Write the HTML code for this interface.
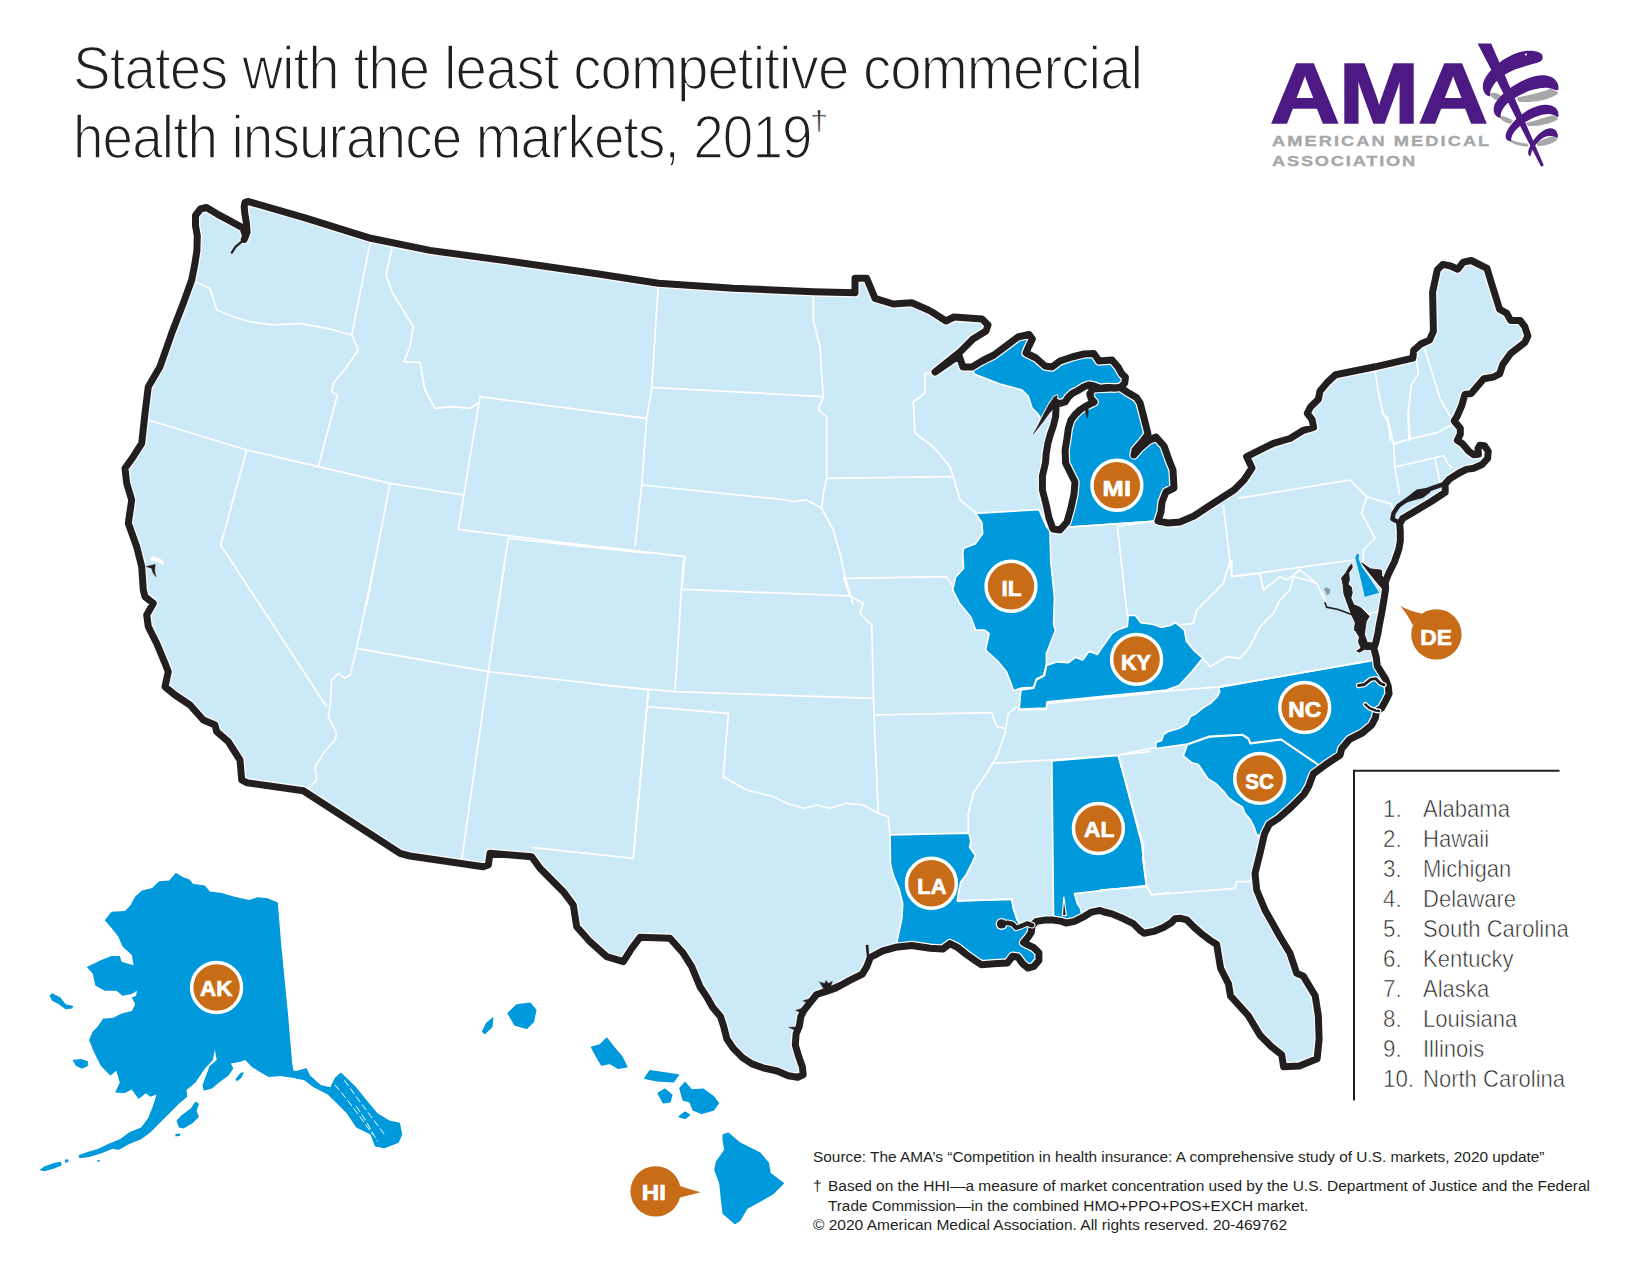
<!DOCTYPE html>
<html><head><meta charset="utf-8"><title>States with the least competitive commercial health insurance markets, 2019</title>
<style>
html,body{margin:0;padding:0;background:#fff}
body{width:1650px;height:1275px;position:relative;overflow:hidden;font-family:"Liberation Sans",sans-serif;color:#231f20}
.title{position:absolute;left:73px;font-size:61.5px;line-height:66px;white-space:nowrap;transform-origin:0 0;letter-spacing:-1px;-webkit-text-stroke:1.6px #fff}
.dag{position:absolute;left:809.5px;top:108.4px;font-size:27px;line-height:27px;transform-origin:0 0;transform:scaleX(1.2);-webkit-text-stroke:.5px #fff}
.lg{position:absolute;left:1383px;font-size:24px;line-height:28px;white-space:nowrap;-webkit-text-stroke:.6px #fff}
.lg .n{display:inline-block;width:39.5px;transform-origin:0 0;transform:scaleX(.93)}
.lg .s{display:inline-block;transform-origin:0 0;transform:scaleX(.918)}
.ft{position:absolute;left:813px;font-size:15.5px;line-height:18px;white-space:nowrap;color:#231f20;transform-origin:0 0}
.ama{position:absolute;left:1269.5px;top:51px;font-weight:700;font-size:85.3px;line-height:85.3px;color:#4c1a82;transform-origin:0 0;transform:scaleX(1.134);letter-spacing:-1px;-webkit-text-stroke:1.6px #4c1a82}
.am2{position:absolute;left:1272px;font-weight:700;font-size:15.2px;line-height:16px;color:#a7a7aa;letter-spacing:1.72px;transform:scaleX(1.2);-webkit-text-stroke:.35px #a7a7aa;white-space:nowrap;transform-origin:0 0}
</style></head><body>
<svg width="1650" height="1275" viewBox="0 0 1650 1275" style="position:absolute;left:0;top:0">
<defs><clipPath id="land"><path d="M247.8,201.4 L305,217.8 L370.7,238.3 L430,250.4 L513.3,261.7 L600,274.3 L658.3,283.3 L733.3,288.3 L813.3,291.7 L855,292.7 L855,278.3 L866.7,278.3 L875,298.3 L893.3,304 L911.7,302.7 L928.3,310 L932,312 L946,321 L954,317 L968,318 L982,319 L988,325 L986,331 L973,339 L960,352 L935,372 L959,355.6 L963,367 L972,367 L982,361 L994,355 L1006,346 L1018,337 L1029,334.4 L1032.4,339 L1028,348 L1026,353 L1036,358 L1045,366 L1052,367 L1060,361 L1072,357 L1084,354 L1094,353.6 L1099,361 L1112,360 L1118,367 L1122,374 L1125.5,377.3 L1124.7,383.1 L1120.4,387.5 L1129.1,393.3 L1136.4,397.6 L1140,402.7 L1144,418 L1148,434 L1142,442 L1135,450 L1134,455 L1140,448 L1148,441 L1156,437 L1164,446 L1169,460 L1173,470 L1174,488 L1166,492 L1162,502 L1161,512 L1158,521 L1168,523 L1180,522 L1194,516 L1206,508 L1220,499 L1234,490 L1244,480 L1252,468 L1246.6,456.6 L1273.3,443.3 L1290,438.5 L1302.6,430.7 L1313.6,427.5 L1312.1,419.6 L1307.3,413.3 L1310.5,407 L1318.4,399.2 L1319.9,391.3 L1327.8,381.8 L1335.7,374.7 L1375.1,366.8 L1412.9,358.2 L1413.7,350.3 L1420.8,344 L1429.5,340.1 L1433.4,331.4 L1432.6,292 L1437.3,269.9 L1442.8,264.4 L1450.7,266 L1457.8,269.2 L1463.3,262.1 L1471.2,260.5 L1487,268.4 L1491.7,284.1 L1499.6,309.3 L1506.7,313.3 L1510.6,320.4 L1520.1,320.4 L1524.8,326.7 L1527.9,336.1 L1524.8,342.4 L1510.6,353.5 L1502.7,364.5 L1499.6,373.9 L1493.3,377.1 L1483.8,378.7 L1475.9,388.1 L1471.2,393.6 L1464.9,394.4 L1461.8,405.5 L1457,416.5 L1454.2,420.9 L1460.3,428.2 L1460.3,434.2 L1457.3,440.3 L1462.7,443.9 L1468.8,451.2 L1473.6,454.8 L1478.5,454.2 L1477.9,448.8 L1479.7,445.2 L1484.5,445.8 L1488.2,451.2 L1487.6,458.5 L1482.1,464.5 L1473.6,468.2 L1466.4,469.4 L1459.1,473 L1449.4,479.1 L1445.2,483.9 L1445.2,492.4 L1431.2,501.5 L1419.1,508.8 L1402.7,518.5 L1399.7,523.9 L1400.3,531.2 L1400.3,540.9 L1398.8,549.4 L1394.4,562 L1388.6,573.6 L1385.2,582.4 L1385.7,588.2 L1384.2,597.9 L1381.8,612.4 L1378.9,627 L1378.1,632.7 L1375.5,643.8 L1373.8,648 L1376.4,658.2 L1377.2,665.8 L1381.5,672.6 L1385.7,679.4 L1388.2,686.2 L1389.1,693.8 L1385.7,700.6 L1381.5,708.2 L1376.4,711.6 L1375.5,717.6 L1371.6,725.1 L1362.2,733 L1349.6,739.3 L1341.7,748.7 L1340.1,755 L1325.9,764.5 L1313.3,773.9 L1308.6,786.5 L1303.9,794.4 L1291.3,807 L1278.7,818.1 L1269.2,824.4 L1264.5,833.8 L1260,853.3 L1255,873.3 L1256.7,890 L1265,910 L1280,936.7 L1290,953.3 L1296.7,973.3 L1303.3,976.1 L1315.2,995.8 L1318.3,1015.5 L1319.1,1039.1 L1317.1,1058.8 L1299.4,1065.9 L1283.6,1066.7 L1281.7,1054.8 L1271.8,1047 L1260,1035.2 L1248.2,1015.5 L1230.5,995.8 L1228.5,983.9 L1220.6,968.2 L1216.7,944.5 L1209.9,940.1 L1202.2,934.3 L1194.4,927.5 L1186.7,919.8 L1180.8,918.3 L1175,918.8 L1171.2,922.7 L1163.4,927.5 L1153.7,931.4 L1144,933.3 L1140.1,930.4 L1133.3,923.6 L1123.6,918.8 L1112,913.9 L1104.2,912 L1100,910.4 L1091.5,912.1 L1083,917.2 L1074.5,921.4 L1066.1,923.1 L1061.8,921.4 L1053.3,920.1 L1044.8,920.1 L1036.4,921.4 L1032.1,925.6 L1031.3,932.4 L1027.9,937.5 L1023.6,942.6 L1027,944.3 L1033.8,947.7 L1038.9,952.8 L1038.9,960.4 L1033.8,966.4 L1027.9,968.1 L1022.8,963.8 L1017.7,957 L1012.6,956.2 L1007.5,963 L993.9,963.8 L981.2,964.7 L975.5,960.9 L966.4,954.5 L957.3,947.3 L950,943.6 L942.7,949.1 L930,948.2 L911.8,945.5 L895.5,947.3 L882.7,950.9 L870.2,957.5 L867,966.2 L862.3,974.1 L849.7,980.4 L835.5,988.2 L826.1,991.4 L816.6,994.5 L810.3,1002.4 L804,1010.3 L800.8,1016.6 L799.3,1026.1 L796.1,1033.9 L795.3,1045 L798.5,1056 L802.4,1067 L803.2,1074.9 L797.7,1077.3 L788.2,1075.7 L777.2,1071 L763,1067.8 L752,1063.9 L742.5,1057.6 L733.1,1048.1 L726.8,1038.7 L723.6,1026.1 L720.5,1016.6 L712.6,1007.2 L706.3,996.1 L700,986.7 L691.7,966.7 L683.3,953.3 L670,938.3 L640,937.3 L631.7,948.3 L623.3,961.7 L606.7,956.7 L590,941.7 L576.7,926.7 L573.3,905 L563.3,891.7 L540,868.3 L531.7,856.7 L490,853.3 L488.3,865 L483.3,866.7 L410,856 L400,853.3 L303.3,790.7 L246.7,782.7 L241.7,780 L240,760 L228.3,741.7 L216.7,731.7 L215,725 L203.3,720 L190,705 L175,695 L165,686.7 L168.3,671.7 L165,663.3 L156.7,643.3 L148.3,626.7 L146.7,615 L153.3,603.3 L145,596.7 L143.3,590 L141.7,566.7 L136.7,546.7 L128.3,523.3 L131.7,500 L126.7,483.3 L125,468.3 L133.3,456.7 L141.7,443.3 L145,413.3 L148.3,386.7 L160,366.7 L171.7,333.3 L183.3,303.3 L191.7,280 L195,263.3 L196.9,250.5 L197.3,235.9 L195.5,225.7 L195.5,215.5 L200.5,209 L206.4,207.5 L217.3,214.1 L228.2,219.9 L242.7,227.9 L245.6,235.9 L244.2,239.5 L247.1,232.3 L246.4,222.8 L244.9,214.1 L244.2,206.8 L244.9,202.5Z"/></clipPath></defs>
<g clip-path="url(#land)">
<rect x="0" y="0" width="1650" height="1275" fill="#cce9f7"/>
<path d="M975.5,513.3 L1039.1,509.6 L1046.4,526.4 L1050,530.9 L1050.9,562.7 L1054.5,597.3 L1053.6,624.5 L1055.5,630 L1050,644.5 L1046.4,653.6 L1046.4,664.5 L1043.6,675.5 L1036.4,679.1 L1033.6,687.3 L1020.9,688.2 L1013.6,690.9 L1010,680.9 L1006.4,671.8 L997.3,660.9 L985.5,650 L989.1,633.6 L984.5,630 L975.5,630 L970.9,617.3 L959.1,602.7 L952.7,590 L955.5,577.3 L963.6,568.2 L962.7,553.6 L963.6,548.2 L975.5,543.6 L982.7,533.6 L981.8,522.7Z" fill="#0099db"/>
<path d="M1019.1,709.1 L1020.9,690 L1033.6,688.2 L1036.4,680 L1044.5,675.5 L1046.4,665.5 L1057.3,661.8 L1068.2,662.7 L1075.5,657.3 L1082.7,660 L1089.1,650.9 L1097.3,654.5 L1102.7,646.4 L1111.8,633.6 L1117.3,630 L1127.3,626.4 L1128.2,615.5 L1135.5,615.5 L1140.9,622.7 L1153.6,624.5 L1160.9,627.3 L1170,625.5 L1175.5,622.7 L1184.5,630 L1186.4,640.9 L1193.6,650 L1202.7,658.2 L1191.8,671.8 L1179.1,685.5 L1166.4,690 L1047.3,701.8 L1046.4,708.2Z" fill="#0099db"/>
<path d="M1155.8,748.7 L1155.8,742.4 L1161.3,740.8 L1163.6,734.5 L1168.4,731.4 L1179.4,728.2 L1187.3,723.5 L1190.4,716.4 L1195.2,714.1 L1203,707.8 L1210.9,703 L1217.2,696.7 L1219.6,692 L1218.8,687.3 L1370.8,660.5 L1407.9,654.2 L1407.9,750.3 L1344.8,766.1 L1318.1,764.5 L1281,739.3 L1250.3,743.2 L1248.7,738.5 L1242.4,734.5 L1209.3,736.4 L1187.3,744Z" fill="#0099db"/>
<path d="M1183.3,755.8 L1187.3,744.8 L1209.3,736.9 L1242.4,735 L1248.4,739 L1250.3,743.7 L1281,739.6 L1318.1,764.8 L1344.8,766.1 L1281.8,844.8 L1256.6,834.6 L1253.5,825.9 L1250.3,819.6 L1244.8,813.3 L1242.4,807 L1234.5,802.3 L1228.2,797.6 L1223.5,791.3 L1215.6,783.4 L1207.8,778.7 L1201.5,769.2 L1198.3,764.5 L1192,762.9Z" fill="#0099db"/>
<path d="M890,834.9 L969.1,833.1 L970.9,841.8 L969.6,847.3 L975.5,855.5 L971.8,863.6 L966.4,874.5 L960.9,881.8 L958.2,894.5 L957.3,900.9 L1011.8,899.1 L1013.6,909.1 L1017.3,920 L1021.1,926.1 L1027,923.5 L1032.1,925.2 L1044.8,932.4 L1044.8,979.1 L888.2,971.8 L895.5,958.2 L897.3,940 L901.8,918.2 L902.7,903.6 L899.1,889.1 L893.6,876.4 L890.4,863.6Z" fill="#0099db"/>
<path d="M1051.8,760.9 L1118.2,755.5 L1128.2,790.9 L1139.1,830.9 L1143.6,845.5 L1142.7,858.2 L1146.4,885.5 L1074.5,893.6 L1077.3,903.6 L1080.9,909.1 L1082.7,921.8 L1053.6,925.5Z" fill="#0099db"/>
<path d="M1354.7,557.2 L1356.6,553.8 L1359.5,553.3 L1359,559.1 L1362.4,566.8 L1369.2,576.5 L1379.9,593 L1364.4,597.4 L1361.5,584.3 L1357.6,568.8Z" fill="#0099db"/>
<path d="M974,374 L1000,384 L1022,390 L1028,396 L1032,408 L1038,414 L1041,420 L1044,416.5 L1050.5,407.8 L1056.4,404.2 L1059.3,405.6 L1065.1,404.2 L1069.5,399.1 L1073.8,394.7 L1079.6,391.8 L1085.5,388.2 L1089.8,386.7 L1094.9,388.2 L1100,390 L1107.3,389.3 L1114.5,390 L1121.8,388.9 L1132,378 L1120,366 L1112,356 L1099,358 L1094,350 L1072,354 L1052,364 L1036,354 L1034,336 L1029,330 L1016,336 L994,354 L972,367Z" fill="#0099db"/>
<path d="M1069,527 L1157,521 L1180,510 L1180,430 L1144,390 L1120.4,387.5 L1092.7,386.7 L1088.4,394 L1089.8,399.1 L1092,402 L1088.4,403.5 L1084,405.6 L1078.9,408.9 L1073.8,413.6 L1069.5,419.5 L1066.9,428.2 L1065.5,439.1 L1063.6,450 L1062.9,462.7 L1062.4,463 L1067,472 L1072,482 L1071,494 L1068,508 L1064,522Z" fill="#0099db"/>
<g fill="none" stroke="#fff" stroke-width="1.7" stroke-linejoin="round">
<path d="M195,281.7 L210,288.3 L216.7,310 L233.3,316.7 L250,321.7 L273.3,325 L300,323.3 L326.7,328.3 L351.7,335"/>
<path d="M370.7,240 L351.7,335 L358.3,350 L346.7,366.7 L333.3,383.3 L331.7,391.7 L337.3,395 L318.3,466.7"/>
<path d="M392.7,245 L386,275 L392.7,293.3 L413.3,326.7 L410,346.7 L404,361.7 L420,362.7 L425,390 L435,408.3 L453.3,406.7 L470,408.3 L478.3,403.3"/>
<path d="M480,396.7 L646.7,418.3"/>
<path d="M480,396.7 L458.3,529.3 L635,551.7"/>
<path d="M148.3,420 L246.7,450 L318.3,466.7 L390,483.3 L463.3,495"/>
<path d="M246.7,450 L220.7,545 L326.7,706.7"/>
<path d="M390,483.3 L366.7,605"/>
<path d="M375,560 L356.7,648.3 L488.3,671.7"/>
<path d="M508.3,538.3 L498.3,605"/>
<path d="M505,560 L488.3,671.7 L461.7,860"/>
<path d="M508.3,538.3 L650,553.3"/>
<path d="M356.7,648.3 L350,675 L345,678.3 L338.3,673.3 L331.7,680 L330,706.7 L328.3,716.7 L336.7,733.3 L335,740 L323.3,753.3 L315,766.7 L316.7,780 L308.3,788.3"/>
<path d="M488.3,671.7 L650,690"/>
<path d="M648.3,690 L633.3,858.3 L531.7,847.3"/>
<path d="M658.3,285 L651.7,388.3 L646.7,418.3 L641.7,485 L635,546.7"/>
<path d="M600,412.3 L646.7,418.3"/>
<path d="M651.7,387.3 L823.3,396.7"/>
<path d="M813.3,293.3 L813.3,320 L820,346.7 L821.7,373.3 L823.3,396.7 L818.3,410 L826.7,416.7 L826.7,478.3"/>
<path d="M641.7,485 L786.7,500 L793.3,501.7 L806.7,500 L821.7,508.3"/>
<path d="M826.7,478.3 L823.3,493.3 L821.7,508.3 L833.3,530 L840,553.3 L845,576.7 L850,593.3 L853.3,605"/>
<path d="M826.7,478.3 L951.7,476.7"/>
<path d="M600,546.7 L685,556.7 L681.7,590"/>
<path d="M845,578.3 L946.7,576.7 L953.3,586.7"/>
<path d="M936.7,371.7 L925,373.3 L925,393.3 L913.3,401.7 L915,433.3 L933.3,446.7 L950,466.7 L953.3,476.7 L960,500 L976.7,513.3"/>
<path d="M683.3,560 L675,691.7"/>
<path d="M683.3,589.3 L850,596"/>
<path d="M843.3,576.7 L850,596 L863.3,603.3 L860,613.3 L871.7,625 L874,715 L878.3,813.3 L888.3,816.7 L890,835"/>
<path d="M600,685 L675,691.7 L874,698.3"/>
<path d="M648.3,691.7 L633.3,856.7"/>
<path d="M646.7,706.7 L728.3,713.3 L723.3,776.7 L746.7,790 L773.3,796.7 L786.7,803.3 L803.3,808.3 L816.7,805 L830,808.3 L846.7,803.3 L863.3,805 L878.3,813.3"/>
<path d="M874,715 L991.7,712.7 L996.7,726.7 L1005,728.3"/>
<path d="M1016.7,706.7 L1008.3,713.3 L1005,733.3 L996.7,756.7 L986.7,773.3 L973.3,793.3 L968.3,813.3 L968.3,833.3"/>
<path d="M991.7,763.3 L1051.7,760 L1118.3,755 L1150,751.7"/>
<path d="M1018.3,710 L1046.7,709.3 L1046.7,703.3 L1150,693.3"/>
<path d="M1100,697 L1150,692.3 L1218.8,686.9 L1371,660.8"/>
<path d="M1118.3,755 L1155,747.3"/>
<path d="M1118.3,755 L1141.7,843.3 L1146.7,886.7 L1151.7,895 L1235,888.3 L1236.7,881.7 L1248.3,881.7 L1255,876.7"/>
<path d="M1100,890 L1146.7,886.7"/>
<path d="M1201.7,656.7 L1210,666.7 L1226.7,656.7 L1240,658.3 L1250,646.7 L1260,626.7 L1273.3,613.3 L1280,600 L1290,590 L1293.3,576.7 L1306.7,580 L1316.7,583.3 L1326.7,603.3"/>
<path d="M1180,625 L1193.3,623.3 L1196.7,610 L1210,596.7 L1223.3,583.3 L1228.3,566.7 L1230,560"/>
<path d="M1231.7,560 L1231.7,576.7 L1260,573.3 L1263.3,590 L1280,576.7 L1286.7,580 L1300,570 L1316.7,583.3"/>
<path d="M1231.7,576.7 L1353.3,560"/>
<path d="M1223.3,505 L1231.7,576.7"/>
<path d="M1238.3,498.3 L1350,480 L1366.7,496.7 L1361.7,513.3 L1375,538.3 L1363.3,550 L1363.3,563.3"/>
<path d="M1116.7,526.7 L1161.7,520"/>
<path d="M1117.3,526.4 L1127.3,615.5"/>
<path d="M1367,496.7 L1391.2,503.9 L1393.6,513"/>
<path d="M1375.1,370.8 L1378.2,391.3 L1383,413.3 L1387.7,421.2 L1390.8,440.9"/>
<path d="M1381.5,410 L1383.9,416.1 L1387.6,417.3 L1393.6,443.9 L1394.8,467 L1399.7,494.8"/>
<path d="M1416.8,361.3 L1418.4,373.9 L1411.3,385 L1408.2,413.3 L1409,440.9"/>
<path d="M1408.2,410 L1410,437.9"/>
<path d="M1424.7,348.7 L1439.7,397.6 L1449.2,414.9 L1453.1,419.6"/>
<path d="M1393.6,443.9 L1409.4,439.1 L1438.5,432.4 L1447,427 L1454.2,424.5"/>
<path d="M1394.8,467 L1434.8,457.9 L1443.9,455.5 L1448.2,464.5 L1453,468.2"/>
<path d="M1434.8,457.9 L1438.5,475.5 L1440.3,482.7"/>
<path d="M1367.3,614.4 L1380.8,610.5"/>
<path d="M957.3,900.9 L1011.8,899.1 L1013.6,909.1 L1017.3,920"/>
<path d="M1146.4,885.5 L1151.8,894.5 L1170,892.7"/>
<path d="M1069,527 L1157,521"/>
<path d="M975.5,513.3 L1039.1,509.6 L1046.4,526.4 L1050,530.9 L1050.9,562.7 L1054.5,597.3 L1053.6,624.5 L1055.5,630 L1050,644.5 L1046.4,653.6 L1046.4,664.5 L1043.6,675.5 L1036.4,679.1 L1033.6,687.3 L1020.9,688.2 L1013.6,690.9 L1010,680.9 L1006.4,671.8 L997.3,660.9 L985.5,650 L989.1,633.6 L984.5,630 L975.5,630 L970.9,617.3 L959.1,602.7 L952.7,590 L955.5,577.3 L963.6,568.2 L962.7,553.6 L963.6,548.2 L975.5,543.6 L982.7,533.6 L981.8,522.7Z"/>
<path d="M1019.1,709.1 L1020.9,690 L1033.6,688.2 L1036.4,680 L1044.5,675.5 L1046.4,665.5 L1057.3,661.8 L1068.2,662.7 L1075.5,657.3 L1082.7,660 L1089.1,650.9 L1097.3,654.5 L1102.7,646.4 L1111.8,633.6 L1117.3,630 L1127.3,626.4 L1128.2,615.5 L1135.5,615.5 L1140.9,622.7 L1153.6,624.5 L1160.9,627.3 L1170,625.5 L1175.5,622.7 L1184.5,630 L1186.4,640.9 L1193.6,650 L1202.7,658.2 L1191.8,671.8 L1179.1,685.5 L1166.4,690 L1047.3,701.8 L1046.4,708.2Z"/>
<path d="M1155.8,748.7 L1155.8,742.4 L1161.3,740.8 L1163.6,734.5 L1168.4,731.4 L1179.4,728.2 L1187.3,723.5 L1190.4,716.4 L1195.2,714.1 L1203,707.8 L1210.9,703 L1217.2,696.7 L1219.6,692 L1218.8,687.3 L1370.8,660.5 L1407.9,654.2 L1407.9,750.3 L1344.8,766.1 L1318.1,764.5 L1281,739.3 L1250.3,743.2 L1248.7,738.5 L1242.4,734.5 L1209.3,736.4 L1187.3,744Z"/>
<path d="M1183.3,755.8 L1187.3,744.8 L1209.3,736.9 L1242.4,735 L1248.4,739 L1250.3,743.7 L1281,739.6 L1318.1,764.8 L1344.8,766.1 L1281.8,844.8 L1256.6,834.6 L1253.5,825.9 L1250.3,819.6 L1244.8,813.3 L1242.4,807 L1234.5,802.3 L1228.2,797.6 L1223.5,791.3 L1215.6,783.4 L1207.8,778.7 L1201.5,769.2 L1198.3,764.5 L1192,762.9Z"/>
<path d="M890,834.9 L969.1,833.1 L970.9,841.8 L969.6,847.3 L975.5,855.5 L971.8,863.6 L966.4,874.5 L960.9,881.8 L958.2,894.5 L957.3,900.9 L1011.8,899.1 L1013.6,909.1 L1017.3,920 L1021.1,926.1 L1027,923.5 L1032.1,925.2 L1044.8,932.4 L1044.8,979.1 L888.2,971.8 L895.5,958.2 L897.3,940 L901.8,918.2 L902.7,903.6 L899.1,889.1 L893.6,876.4 L890.4,863.6Z"/>
<path d="M1051.8,760.9 L1118.2,755.5 L1128.2,790.9 L1139.1,830.9 L1143.6,845.5 L1142.7,858.2 L1146.4,885.5 L1074.5,893.6 L1077.3,903.6 L1080.9,909.1 L1082.7,921.8 L1053.6,925.5Z"/>
<path d="M1354.7,557.2 L1356.6,553.8 L1359.5,553.3 L1359,559.1 L1362.4,566.8 L1369.2,576.5 L1379.9,593 L1364.4,597.4 L1361.5,584.3 L1357.6,568.8Z" stroke-width=".7"/>
<path d="M974,374 L1000,384 L1022,390 L1028,396 L1032,408 L1038,414 L1041,420 L1044,416.5 L1050.5,407.8 L1056.4,404.2 L1059.3,405.6 L1065.1,404.2 L1069.5,399.1 L1073.8,394.7 L1079.6,391.8 L1085.5,388.2 L1089.8,386.7 L1094.9,388.2 L1100,390 L1107.3,389.3 L1114.5,390 L1121.8,388.9 L1132,378 L1120,366 L1112,356 L1099,358 L1094,350 L1072,354 L1052,364 L1036,354 L1034,336 L1029,330 L1016,336 L994,354 L972,367Z"/>
<path d="M1069,527 L1157,521 L1180,510 L1180,430 L1144,390 L1120.4,387.5 L1092.7,386.7 L1088.4,394 L1089.8,399.1 L1092,402 L1088.4,403.5 L1084,405.6 L1078.9,408.9 L1073.8,413.6 L1069.5,419.5 L1066.9,428.2 L1065.5,439.1 L1063.6,450 L1062.9,462.7 L1062.4,463 L1067,472 L1072,482 L1071,494 L1068,508 L1064,522Z"/>
</g>
<path d="M247.8,201.4 L305,217.8 L370.7,238.3 L430,250.4 L513.3,261.7 L600,274.3 L658.3,283.3 L733.3,288.3 L813.3,291.7 L855,292.7 L855,278.3 L866.7,278.3 L875,298.3 L893.3,304 L911.7,302.7 L928.3,310 L932,312 L946,321 L954,317 L968,318 L982,319 L988,325 L986,331 L973,339 L960,352 L935,372 L959,355.6 L963,367 L972,367 L982,361 L994,355 L1006,346 L1018,337 L1029,334.4 L1032.4,339 L1028,348 L1026,353 L1036,358 L1045,366 L1052,367 L1060,361 L1072,357 L1084,354 L1094,353.6 L1099,361 L1112,360 L1118,367 L1122,374 L1125.5,377.3 L1124.7,383.1 L1120.4,387.5 L1129.1,393.3 L1136.4,397.6 L1140,402.7 L1144,418 L1148,434 L1142,442 L1135,450 L1134,455 L1140,448 L1148,441 L1156,437 L1164,446 L1169,460 L1173,470 L1174,488 L1166,492 L1162,502 L1161,512 L1158,521 L1168,523 L1180,522 L1194,516 L1206,508 L1220,499 L1234,490 L1244,480 L1252,468 L1246.6,456.6 L1273.3,443.3 L1290,438.5 L1302.6,430.7 L1313.6,427.5 L1312.1,419.6 L1307.3,413.3 L1310.5,407 L1318.4,399.2 L1319.9,391.3 L1327.8,381.8 L1335.7,374.7 L1375.1,366.8 L1412.9,358.2 L1413.7,350.3 L1420.8,344 L1429.5,340.1 L1433.4,331.4 L1432.6,292 L1437.3,269.9 L1442.8,264.4 L1450.7,266 L1457.8,269.2 L1463.3,262.1 L1471.2,260.5 L1487,268.4 L1491.7,284.1 L1499.6,309.3 L1506.7,313.3 L1510.6,320.4 L1520.1,320.4 L1524.8,326.7 L1527.9,336.1 L1524.8,342.4 L1510.6,353.5 L1502.7,364.5 L1499.6,373.9 L1493.3,377.1 L1483.8,378.7 L1475.9,388.1 L1471.2,393.6 L1464.9,394.4 L1461.8,405.5 L1457,416.5 L1454.2,420.9 L1460.3,428.2 L1460.3,434.2 L1457.3,440.3 L1462.7,443.9 L1468.8,451.2 L1473.6,454.8 L1478.5,454.2 L1477.9,448.8 L1479.7,445.2 L1484.5,445.8 L1488.2,451.2 L1487.6,458.5 L1482.1,464.5 L1473.6,468.2 L1466.4,469.4 L1459.1,473 L1449.4,479.1 L1445.2,483.9 L1445.2,492.4 L1431.2,501.5 L1419.1,508.8 L1402.7,518.5 L1399.7,523.9 L1400.3,531.2 L1400.3,540.9 L1398.8,549.4 L1394.4,562 L1388.6,573.6 L1385.2,582.4 L1385.7,588.2 L1384.2,597.9 L1381.8,612.4 L1378.9,627 L1378.1,632.7 L1375.5,643.8 L1373.8,648 L1376.4,658.2 L1377.2,665.8 L1381.5,672.6 L1385.7,679.4 L1388.2,686.2 L1389.1,693.8 L1385.7,700.6 L1381.5,708.2 L1376.4,711.6 L1375.5,717.6 L1371.6,725.1 L1362.2,733 L1349.6,739.3 L1341.7,748.7 L1340.1,755 L1325.9,764.5 L1313.3,773.9 L1308.6,786.5 L1303.9,794.4 L1291.3,807 L1278.7,818.1 L1269.2,824.4 L1264.5,833.8 L1260,853.3 L1255,873.3 L1256.7,890 L1265,910 L1280,936.7 L1290,953.3 L1296.7,973.3 L1303.3,976.1 L1315.2,995.8 L1318.3,1015.5 L1319.1,1039.1 L1317.1,1058.8 L1299.4,1065.9 L1283.6,1066.7 L1281.7,1054.8 L1271.8,1047 L1260,1035.2 L1248.2,1015.5 L1230.5,995.8 L1228.5,983.9 L1220.6,968.2 L1216.7,944.5 L1209.9,940.1 L1202.2,934.3 L1194.4,927.5 L1186.7,919.8 L1180.8,918.3 L1175,918.8 L1171.2,922.7 L1163.4,927.5 L1153.7,931.4 L1144,933.3 L1140.1,930.4 L1133.3,923.6 L1123.6,918.8 L1112,913.9 L1104.2,912 L1100,910.4 L1091.5,912.1 L1083,917.2 L1074.5,921.4 L1066.1,923.1 L1061.8,921.4 L1053.3,920.1 L1044.8,920.1 L1036.4,921.4 L1032.1,925.6 L1031.3,932.4 L1027.9,937.5 L1023.6,942.6 L1027,944.3 L1033.8,947.7 L1038.9,952.8 L1038.9,960.4 L1033.8,966.4 L1027.9,968.1 L1022.8,963.8 L1017.7,957 L1012.6,956.2 L1007.5,963 L993.9,963.8 L981.2,964.7 L975.5,960.9 L966.4,954.5 L957.3,947.3 L950,943.6 L942.7,949.1 L930,948.2 L911.8,945.5 L895.5,947.3 L882.7,950.9 L870.2,957.5 L867,966.2 L862.3,974.1 L849.7,980.4 L835.5,988.2 L826.1,991.4 L816.6,994.5 L810.3,1002.4 L804,1010.3 L800.8,1016.6 L799.3,1026.1 L796.1,1033.9 L795.3,1045 L798.5,1056 L802.4,1067 L803.2,1074.9 L797.7,1077.3 L788.2,1075.7 L777.2,1071 L763,1067.8 L752,1063.9 L742.5,1057.6 L733.1,1048.1 L726.8,1038.7 L723.6,1026.1 L720.5,1016.6 L712.6,1007.2 L706.3,996.1 L700,986.7 L691.7,966.7 L683.3,953.3 L670,938.3 L640,937.3 L631.7,948.3 L623.3,961.7 L606.7,956.7 L590,941.7 L576.7,926.7 L573.3,905 L563.3,891.7 L540,868.3 L531.7,856.7 L490,853.3 L488.3,865 L483.3,866.7 L410,856 L400,853.3 L303.3,790.7 L246.7,782.7 L241.7,780 L240,760 L228.3,741.7 L216.7,731.7 L215,725 L203.3,720 L190,705 L175,695 L165,686.7 L168.3,671.7 L165,663.3 L156.7,643.3 L148.3,626.7 L146.7,615 L153.3,603.3 L145,596.7 L143.3,590 L141.7,566.7 L136.7,546.7 L128.3,523.3 L131.7,500 L126.7,483.3 L125,468.3 L133.3,456.7 L141.7,443.3 L145,413.3 L148.3,386.7 L160,366.7 L171.7,333.3 L183.3,303.3 L191.7,280 L195,263.3 L196.9,250.5 L197.3,235.9 L195.5,225.7 L195.5,215.5 L200.5,209 L206.4,207.5 L217.3,214.1 L228.2,219.9 L242.7,227.9 L245.6,235.9 L244.2,239.5 L247.1,232.3 L246.4,222.8 L244.9,214.1 L244.2,206.8 L244.9,202.5Z" fill="none" stroke="#fff" stroke-width="9.4" stroke-linejoin="round"/>
<path d="M1120.4,387.5 L1114.5,388.2 L1107.3,387.5 L1100,388.2 L1094.2,386 L1089.1,384.9 L1084,386.7 L1078.2,390.4 L1072.4,393.3 L1068,397.6 L1065.1,402 L1059.3,403.6 L1055.6,402 L1056,409.3 L1055.6,416.5 L1053.5,425.3 L1050.5,434 L1048,442.7 L1046.2,453.6 L1045.5,462.7 L1042.4,476 L1042.4,490 L1046,504 L1049,518 L1053,529 L1060,530 L1067,522 L1071,508 L1074,494 L1075,482 L1070,472 L1065.6,463 L1065.1,450 L1066.9,439.1 L1068.4,428.2 L1070.9,420.2 L1075.3,414.4 L1080.4,409.6 L1085.5,406.4 L1089.8,404.2 L1094.2,402 L1091.3,399.1 L1089.8,394 L1092.7,388.9Z" fill="none" stroke="#fff" stroke-width="9.4" stroke-linejoin="round"/>
<path d="M1054.2,396.9 L1057.1,395.5 L1056.7,402 L1054.2,407.8 L1049.1,413.6 L1043.3,421.6 L1033.1,434.4 L1038.2,425.3 L1044,413.6 L1049.1,404.2Z" fill="#fff" stroke="#fff" stroke-width="2.4" stroke-linejoin="round"/>
<path d="M1351.8,564.4 L1352.2,567.8 L1348.8,572.7 L1349.3,580.4 L1347.9,584.3 L1351.3,587.2 L1352.2,593 L1350.8,597.9 L1353.7,604.7 L1360.5,607.6 L1365.3,612.4 L1369.2,616.3 L1366.3,621.2 L1365.3,627 L1364.4,634.7 L1367.3,642.5 L1372.1,642.9 L1374.7,647.2 L1373,649.3 L1367.9,649.7 L1364.5,649.3 L1359.4,652.2 L1356.8,651 L1361.1,648 L1358.5,642.1 L1359.4,637 L1355.2,630.2 L1355.6,620 L1354.7,630.8 L1355.6,623.1 L1351.8,615.3 L1347.9,604.7 L1344,594 L1343,584.3 L1341.6,578 L1345.9,572.7 L1349.8,565.9Z" fill="#fff" stroke="#fff" stroke-width="2.6" stroke-linejoin="round"/>
<path d="M1361.9,563 L1370.2,568.8 L1381.3,570.2 L1381.8,575.6 L1386.7,582.4 L1382.8,589.2 L1377,582.4 L1369.2,572.7Z" fill="#fff" stroke="#fff" stroke-width="2.6" stroke-linejoin="round"/>
<path d="M1323.6,589.2 L1326.5,587.2 L1330.4,589.2 L1329.5,594 L1326.5,595 L1325.1,591.1Z" fill="#8e9aa6"/>
<path d="M150.4,557.8 L152.9,556 L160.9,559.3 L164.5,562.9 L162.4,564.7 L156.5,561.5 L150.7,560.7Z" fill="#fff"/>
<path d="M1062.4,915.5 L1063.8,896.7 L1066.4,915.5Z" fill="#231f20" stroke="#fff" stroke-width="1.2"/>
</g>
<g stroke="#231f20" stroke-linejoin="round" stroke-linecap="round">
<path d="M247.8,201.4 L305,217.8 L370.7,238.3 L430,250.4 L513.3,261.7 L600,274.3 L658.3,283.3 L733.3,288.3 L813.3,291.7 L855,292.7 L855,278.3 L866.7,278.3 L875,298.3 L893.3,304 L911.7,302.7 L928.3,310 L932,312 L946,321 L954,317 L968,318 L982,319 L988,325 L986,331 L973,339 L960,352 L935,372 L959,355.6 L963,367 L972,367 L982,361 L994,355 L1006,346 L1018,337 L1029,334.4 L1032.4,339 L1028,348 L1026,353 L1036,358 L1045,366 L1052,367 L1060,361 L1072,357 L1084,354 L1094,353.6 L1099,361 L1112,360 L1118,367 L1122,374 L1125.5,377.3 L1124.7,383.1 L1120.4,387.5 L1129.1,393.3 L1136.4,397.6 L1140,402.7 L1144,418 L1148,434 L1142,442 L1135,450 L1134,455 L1140,448 L1148,441 L1156,437 L1164,446 L1169,460 L1173,470 L1174,488 L1166,492 L1162,502 L1161,512 L1158,521 L1168,523 L1180,522 L1194,516 L1206,508 L1220,499 L1234,490 L1244,480 L1252,468 L1246.6,456.6 L1273.3,443.3 L1290,438.5 L1302.6,430.7 L1313.6,427.5 L1312.1,419.6 L1307.3,413.3 L1310.5,407 L1318.4,399.2 L1319.9,391.3 L1327.8,381.8 L1335.7,374.7 L1375.1,366.8 L1412.9,358.2 L1413.7,350.3 L1420.8,344 L1429.5,340.1 L1433.4,331.4 L1432.6,292 L1437.3,269.9 L1442.8,264.4 L1450.7,266 L1457.8,269.2 L1463.3,262.1 L1471.2,260.5 L1487,268.4 L1491.7,284.1 L1499.6,309.3 L1506.7,313.3 L1510.6,320.4 L1520.1,320.4 L1524.8,326.7 L1527.9,336.1 L1524.8,342.4 L1510.6,353.5 L1502.7,364.5 L1499.6,373.9 L1493.3,377.1 L1483.8,378.7 L1475.9,388.1 L1471.2,393.6 L1464.9,394.4 L1461.8,405.5 L1457,416.5 L1454.2,420.9 L1460.3,428.2 L1460.3,434.2 L1457.3,440.3 L1462.7,443.9 L1468.8,451.2 L1473.6,454.8 L1478.5,454.2 L1477.9,448.8 L1479.7,445.2 L1484.5,445.8 L1488.2,451.2 L1487.6,458.5 L1482.1,464.5 L1473.6,468.2 L1466.4,469.4 L1459.1,473 L1449.4,479.1 L1445.2,483.9 L1445.2,492.4 L1431.2,501.5 L1419.1,508.8 L1402.7,518.5 L1399.7,523.9 L1400.3,531.2 L1400.3,540.9 L1398.8,549.4 L1394.4,562 L1388.6,573.6 L1385.2,582.4 L1385.7,588.2 L1384.2,597.9 L1381.8,612.4 L1378.9,627 L1378.1,632.7 L1375.5,643.8 L1373.8,648 L1376.4,658.2 L1377.2,665.8 L1381.5,672.6 L1385.7,679.4 L1388.2,686.2 L1389.1,693.8 L1385.7,700.6 L1381.5,708.2 L1376.4,711.6 L1375.5,717.6 L1371.6,725.1 L1362.2,733 L1349.6,739.3 L1341.7,748.7 L1340.1,755 L1325.9,764.5 L1313.3,773.9 L1308.6,786.5 L1303.9,794.4 L1291.3,807 L1278.7,818.1 L1269.2,824.4 L1264.5,833.8 L1260,853.3 L1255,873.3 L1256.7,890 L1265,910 L1280,936.7 L1290,953.3 L1296.7,973.3 L1303.3,976.1 L1315.2,995.8 L1318.3,1015.5 L1319.1,1039.1 L1317.1,1058.8 L1299.4,1065.9 L1283.6,1066.7 L1281.7,1054.8 L1271.8,1047 L1260,1035.2 L1248.2,1015.5 L1230.5,995.8 L1228.5,983.9 L1220.6,968.2 L1216.7,944.5 L1209.9,940.1 L1202.2,934.3 L1194.4,927.5 L1186.7,919.8 L1180.8,918.3 L1175,918.8 L1171.2,922.7 L1163.4,927.5 L1153.7,931.4 L1144,933.3 L1140.1,930.4 L1133.3,923.6 L1123.6,918.8 L1112,913.9 L1104.2,912 L1100,910.4 L1091.5,912.1 L1083,917.2 L1074.5,921.4 L1066.1,923.1 L1061.8,921.4 L1053.3,920.1 L1044.8,920.1 L1036.4,921.4 L1032.1,925.6 L1031.3,932.4 L1027.9,937.5 L1023.6,942.6 L1027,944.3 L1033.8,947.7 L1038.9,952.8 L1038.9,960.4 L1033.8,966.4 L1027.9,968.1 L1022.8,963.8 L1017.7,957 L1012.6,956.2 L1007.5,963 L993.9,963.8 L981.2,964.7 L975.5,960.9 L966.4,954.5 L957.3,947.3 L950,943.6 L942.7,949.1 L930,948.2 L911.8,945.5 L895.5,947.3 L882.7,950.9 L870.2,957.5 L867,966.2 L862.3,974.1 L849.7,980.4 L835.5,988.2 L826.1,991.4 L816.6,994.5 L810.3,1002.4 L804,1010.3 L800.8,1016.6 L799.3,1026.1 L796.1,1033.9 L795.3,1045 L798.5,1056 L802.4,1067 L803.2,1074.9 L797.7,1077.3 L788.2,1075.7 L777.2,1071 L763,1067.8 L752,1063.9 L742.5,1057.6 L733.1,1048.1 L726.8,1038.7 L723.6,1026.1 L720.5,1016.6 L712.6,1007.2 L706.3,996.1 L700,986.7 L691.7,966.7 L683.3,953.3 L670,938.3 L640,937.3 L631.7,948.3 L623.3,961.7 L606.7,956.7 L590,941.7 L576.7,926.7 L573.3,905 L563.3,891.7 L540,868.3 L531.7,856.7 L490,853.3 L488.3,865 L483.3,866.7 L410,856 L400,853.3 L303.3,790.7 L246.7,782.7 L241.7,780 L240,760 L228.3,741.7 L216.7,731.7 L215,725 L203.3,720 L190,705 L175,695 L165,686.7 L168.3,671.7 L165,663.3 L156.7,643.3 L148.3,626.7 L146.7,615 L153.3,603.3 L145,596.7 L143.3,590 L141.7,566.7 L136.7,546.7 L128.3,523.3 L131.7,500 L126.7,483.3 L125,468.3 L133.3,456.7 L141.7,443.3 L145,413.3 L148.3,386.7 L160,366.7 L171.7,333.3 L183.3,303.3 L191.7,280 L195,263.3 L196.9,250.5 L197.3,235.9 L195.5,225.7 L195.5,215.5 L200.5,209 L206.4,207.5 L217.3,214.1 L228.2,219.9 L242.7,227.9 L245.6,235.9 L244.2,239.5 L247.1,232.3 L246.4,222.8 L244.9,214.1 L244.2,206.8 L244.9,202.5Z" fill="none" stroke-width="7.0"/>
<path d="M1120.4,387.5 L1114.5,388.2 L1107.3,387.5 L1100,388.2 L1094.2,386 L1089.1,384.9 L1084,386.7 L1078.2,390.4 L1072.4,393.3 L1068,397.6 L1065.1,402 L1059.3,403.6 L1055.6,402 L1056,409.3 L1055.6,416.5 L1053.5,425.3 L1050.5,434 L1048,442.7 L1046.2,453.6 L1045.5,462.7 L1042.4,476 L1042.4,490 L1046,504 L1049,518 L1053,529 L1060,530 L1067,522 L1071,508 L1074,494 L1075,482 L1070,472 L1065.6,463 L1065.1,450 L1066.9,439.1 L1068.4,428.2 L1070.9,420.2 L1075.3,414.4 L1080.4,409.6 L1085.5,406.4 L1089.8,404.2 L1094.2,402 L1091.3,399.1 L1089.8,394 L1092.7,388.9Z" fill="#fff" stroke-width="7.0"/>
<path d="M1054.2,396.9 L1057.1,395.5 L1056.7,402 L1054.2,407.8 L1049.1,413.6 L1043.3,421.6 L1033.1,434.4 L1038.2,425.3 L1044,413.6 L1049.1,404.2Z" fill="#231f20" stroke-width=".6"/>
<path d="M1084,406.4 L1088.4,405.6 L1088,413.6 L1087.3,418 L1085.8,412.2Z" fill="#231f20" stroke-width=".5"/>
<path d="M1351.8,564.4 L1352.2,567.8 L1348.8,572.7 L1349.3,580.4 L1347.9,584.3 L1351.3,587.2 L1352.2,593 L1350.8,597.9 L1353.7,604.7 L1360.5,607.6 L1365.3,612.4 L1369.2,616.3 L1366.3,621.2 L1365.3,627 L1364.4,634.7 L1367.3,642.5 L1372.1,642.9 L1374.7,647.2 L1373,649.3 L1367.9,649.7 L1364.5,649.3 L1359.4,652.2 L1356.8,651 L1361.1,648 L1358.5,642.1 L1359.4,637 L1355.2,630.2 L1355.6,620 L1354.7,630.8 L1355.6,623.1 L1351.8,615.3 L1347.9,604.7 L1344,594 L1343,584.3 L1341.6,578 L1345.9,572.7 L1349.8,565.9Z" fill="#231f20" stroke-width="1"/>
<path d="M1353.7,615.3 L1338.2,609.5 L1326.5,607.1 L1325.1,602.7" fill="none" stroke-width="1.6"/>
<path d="M1361.9,563 L1370.2,568.8 L1381.3,570.2 L1381.8,575.6 L1386.7,582.4 L1382.8,589.2 L1377,582.4 L1369.2,572.7Z" fill="#231f20" stroke-width="1"/>
<path d="M1444.5,483.9 L1433.6,487.6 L1423.9,491.2 L1415.5,493.6 L1407,499.7 L1398.5,505.8 L1393.6,513 L1392.4,519.1 L1399.7,522.7" fill="none" stroke-width="4.4"/>
<path d="M1411.8,493.6 L1416.7,489.4 L1432.4,487 L1430,492.4 L1422.7,497.9 L1414.2,500.3 L1405.8,502.7Z" fill="#231f20" stroke="none"/>
<path d="M244.9,238.8 L235.5,246.8 L231.8,252.6" fill="none" stroke-width="2.2"/>
<path d="M868.3,958.3 L867,944.9" fill="none" stroke-width="2.6" stroke-linecap="butt"/>
<path d="M819.8,981.9 L824.5,983.5 L826.1,980.4 L828.4,983.5 L832.4,981.2 L830.8,985.9 L838.7,982.7 L830.8,988.2 L824.5,990.6Z" fill="#231f20" stroke-width=".4"/>
<path d="M803.2,1000.8 L810.3,998.5 L814.2,994.5 L809.5,1004Z" fill="#231f20" stroke-width=".4"/>
<path d="M795.8,1010.3 L801.6,1008.4 L802.7,1013.8Z" fill="#231f20" stroke-width=".4"/>
<path d="M789,1027.3 L794.9,1027 L796.4,1031.1Z" fill="#231f20" stroke-width=".4"/>
<path d="M1384,684.9 L1380.2,683.2 L1375.9,678.7 L1370.8,679.4 L1367,682.4 L1364.5,684.5 L1358.5,685.5" fill="none" stroke="#fff" stroke-width="5.4"/>
<path d="M1384,684.9 L1380.2,683.2 L1375.9,678.7 L1370.8,679.4 L1367,682.4 L1364.5,684.5 L1358.5,685.5" fill="none" stroke-width="2.8"/>
<path d="M1365.3,704.4 L1369.6,708.2 L1375.9,710.6 L1378.9,711" fill="none" stroke="#fff" stroke-width="5.0"/>
<path d="M1365.3,704.4 L1369.6,708.2 L1375.9,710.6 L1378.9,711" fill="none" stroke-width="2.4"/>
<path d="M146.4,566.5 L155.1,564.4 L154.7,570.9 L155.8,576.7 L152.9,572.4 L151.8,568.4Z" fill="#231f20" stroke-width=".5"/>
<path d="M1032.1,925.2 L1027,923.5 L1021.1,926.1 L1016,927.8 L1012.6,923.9 L1007.5,922.7 L1001.6,923.9" fill="none" stroke="#fff" stroke-width="6.6"/>
<circle cx="1001.6" cy="923.9" r="6" fill="#fff" stroke="none"/>
<path d="M1032.1,925.2 L1027,923.5 L1021.1,926.1 L1016,927.8 L1012.6,923.9 L1007.5,922.7 L1001.6,923.9" fill="none" stroke-width="4.6"/>
<circle cx="1001.6" cy="923.9" r="4.7" fill="#231f20" stroke="none"/>
</g>
<path d="M175.9,872.7 L182.7,877 L189.5,879.5 L192.9,883.8 L204.8,885.5 L209.9,891.4 L221.8,893.1 L233.6,896.5 L248.9,899.9 L257.4,897.3 L267.6,898.2 L277.8,902.4 L281.2,944.8 L287.9,1012.7 L292.2,1063.6 L293.5,1070.7 L297.1,1070.7 L306.5,1067.9 L310.1,1075.5 L320.7,1084.9 L330.2,1087.3 L334.9,1077.8 L340.8,1072.6 L347.9,1079 L356.2,1087.3 L365.6,1099.1 L377.5,1113.3 L389.3,1120.4 L399.9,1122.7 L402.3,1134.5 L398.7,1142.8 L384.5,1148.3 L375.1,1146.4 L370.4,1134.5 L356.2,1127.5 L346.7,1113.3 L337.3,1103.8 L327.8,1094.4 L313.6,1087.3 L304.2,1080.2 L292.4,1077.8 L280.5,1075.9 L268.7,1077.1 L261.6,1073.1 L252.2,1067.2 L245.1,1060.1 L240.4,1061.7 L230.9,1063.6 L233.3,1068.4 L228.5,1075.5 L219.1,1082.5 L212,1088.5 L203.7,1090.8 L202.5,1084.9 L206.1,1075.5 L209.6,1066 L216.7,1060.1 L214.8,1049.5 L212.9,1060.1 L204.9,1068.4 L195.5,1082.5 L186.5,1090.1 L187.2,1096.7 L178.9,1103.8 L169.5,1113.3 L160,1122.7 L150.5,1132.2 L141.1,1139.3 L129.3,1144 L118.6,1149.9 L112.7,1148.7 L100.9,1153.5 L89.1,1157 L79.6,1158.2 L78.5,1155.3 L86.7,1152.3 L98.5,1148.7 L108,1144 L119.8,1139.3 L129.3,1132.2 L141.1,1127.5 L148.2,1118 L152.9,1106.2 L156.5,1094.4 L150.5,1096.7 L145.8,1093.2 L138.7,1099.1 L131.6,1089.6 L124.5,1093.2 L115.1,1092.5 L119.8,1082.5 L116.3,1070.7 L110.4,1075.5 L100.9,1066 L93.8,1051.8 L89.1,1040 L92.8,1031.4 L97.9,1026.3 L103,1018.7 L113.2,1017.8 L121.6,1013.6 L131.8,1011 L135.2,1004.2 L131.8,997.5 L136.1,995.8 L136.9,990.7 L131.8,994.1 L122.5,995.8 L116.5,990.7 L104.7,990.7 L95.3,985.6 L92.8,973.7 L86.8,966.9 L101.3,960.1 L111.5,955.9 L119.9,955.9 L121.6,961.8 L133.5,965.2 L131.8,955 L122.5,946.5 L118.2,936.4 L111.5,927.9 L104.7,920.2 L111.5,911.8 L125,910.9 L130.1,905.8 L135.2,896.5 L142,890.5 L152.2,888 L159,881.2 L169.2,880.4Z" fill="#0099db"/>
<path d="M49.5,995.8 L52.1,993.2 L60.5,997.5 L65.6,1004.2 L73.3,1005.9 L72.4,1008.5 L65.6,1009.3 L58.8,1004.2 L52.1,1000.8Z" fill="#0099db"/>
<path d="M72.5,1060.1 L80.8,1058.9 L87.9,1061.3 L87.9,1066 L82,1068.8 L76.1,1066Z" fill="#0099db"/>
<path d="M176.5,1120.4 L181.3,1115.6 L190.7,1108.5 L195.5,1101.5 L199,1103.8 L196.6,1110.9 L199,1116.8 L193.1,1122.7 L183.6,1128.6 L178.9,1127.5Z" fill="#0099db"/>
<path d="M175.4,1134.1 L180.1,1133.4 L180.1,1135.7 L175.4,1136.4Z" fill="#0099db"/>
<path d="M39.5,1170 L44.2,1166.5 L53.6,1162.9 L60.7,1161.7 L61.9,1165.3 L53.6,1168.8 L44.2,1171.2Z" fill="#0099db"/>
<path d="M65,1159.4 L68.3,1159.4 L68.3,1162.4 L65,1162.4Z" fill="#0099db"/>
<path d="M97.4,1160.1 L99.7,1160.1 L99.7,1161.7 L97.4,1161.7Z" fill="#0099db"/>
<path d="M235.6,1079 L240.4,1073.1 L243.9,1071.9 L241.5,1077.8 L236.8,1081.4Z" fill="#0099db"/>
<path d="M482.7,1031.7 L486.7,1023.3 L492.7,1018.3 L491.7,1026.7 L485,1033.3Z" fill="#0099db" stroke="#0099db" stroke-width="1.6" stroke-linejoin="round"/>
<path d="M508.3,1013.3 L516.7,1005 L530,1003.3 L535.7,1010 L533.3,1021.7 L526.7,1028.3 L515,1025Z" fill="#0099db" stroke="#0099db" stroke-width="1.6" stroke-linejoin="round"/>
<path d="M591.7,1047.3 L600,1045 L606.7,1038.3 L613.3,1046.7 L621.7,1056.7 L626.7,1066.7 L618.3,1068.3 L610,1063.3 L601.7,1065 L596.7,1056.7Z" fill="#0099db" stroke="#0099db" stroke-width="1.6" stroke-linejoin="round"/>
<path d="M645,1078.3 L650,1070.7 L663.3,1072.7 L678.3,1075 L673.3,1081.7 L656.7,1080.7Z" fill="#0099db" stroke="#0099db" stroke-width="1.6" stroke-linejoin="round"/>
<path d="M658.3,1093.3 L665,1089.3 L671.7,1095 L670,1101.7 L663.3,1102.7Z" fill="#0099db" stroke="#0099db" stroke-width="1.6" stroke-linejoin="round"/>
<path d="M680,1088.3 L685,1082.7 L691.7,1090 L703.3,1089.3 L713.3,1096.7 L718.3,1103.3 L713.3,1110 L701.7,1113.3 L693.3,1110 L690,1101.7 L683.3,1100Z" fill="#0099db" stroke="#0099db" stroke-width="1.6" stroke-linejoin="round"/>
<path d="M679.3,1116.7 L685,1112.3 L689.3,1115 L685,1118.3Z" fill="#0099db" stroke="#0099db" stroke-width="1.6" stroke-linejoin="round"/>
<path d="M723.3,1135 L728.3,1133.3 L740,1143.3 L760,1153.3 L768.3,1163.3 L770,1173.3 L783.3,1183.3 L773.3,1193.3 L761.7,1200 L746.7,1208.3 L740,1220 L735,1223.3 L723.3,1213.3 L721.7,1200 L720,1183.3 L715,1170 L716.7,1161.7 L725,1150 L723.3,1140Z" fill="#0099db" stroke="#0099db" stroke-width="1.6" stroke-linejoin="round"/>
<path d="M334.9,1084.9 L346.7,1099.1 L360.9,1118 L372.7,1134.5" fill="none" stroke="#fff" stroke-width="1" stroke-dasharray="7 3"/>
<path d="M344.4,1080.2 L356.2,1096.7 L370.4,1115.6 L384.5,1134.5" fill="none" stroke="#fff" stroke-width="1" stroke-dasharray="7 3"/>
<path d="M356.2,1106.2 L365.6,1120.4 L377.5,1141.6" fill="none" stroke="#fff" stroke-width="1" stroke-dasharray="7 3"/>
<path d="M1400.2,606.1 Q1412,612 1422,613.5 L1412.5,625 Q1408,615 1400.2,606.1 Z" fill="#c86c17"/>
<path d="M700.7,1192.2 Q690,1189.5 680,1186 L680,1197.5 Q690,1195 700.7,1192.2 Z" fill="#c86c17"/>
<circle cx="1116.9" cy="485.3" r="24.95" fill="#c86c17" stroke="#fff" stroke-width="3.5"/>
<text transform="translate(1116.8,495.59999999999997) scale(1.12,1)" text-anchor="middle" font-family="Liberation Sans, sans-serif" font-weight="700" font-size="22.8" fill="#fff" stroke="#fff" stroke-width=".7">MI</text>
<circle cx="1011.0" cy="586.3" r="24.95" fill="#c86c17" stroke="#fff" stroke-width="3.5"/>
<text transform="translate(1011.5,596.4000000000001) scale(1.0,1)" text-anchor="middle" font-family="Liberation Sans, sans-serif" font-weight="700" font-size="22.8" fill="#fff" stroke="#fff" stroke-width=".7">IL</text>
<circle cx="1136.6" cy="659.4" r="24.95" fill="#c86c17" stroke="#fff" stroke-width="3.5"/>
<text transform="translate(1136.0,669.6) scale(0.95,1)" text-anchor="middle" font-family="Liberation Sans, sans-serif" font-weight="700" font-size="22.8" fill="#fff" stroke="#fff" stroke-width=".7">KY</text>
<circle cx="1304.7" cy="707.5" r="24.95" fill="#c86c17" stroke="#fff" stroke-width="3.5"/>
<text transform="translate(1304.7,717.4000000000001) scale(1.0,1)" text-anchor="middle" font-family="Liberation Sans, sans-serif" font-weight="700" font-size="22.8" fill="#fff" stroke="#fff" stroke-width=".7">NC</text>
<circle cx="1259.7" cy="778.4" r="24.95" fill="#c86c17" stroke="#fff" stroke-width="3.5"/>
<text transform="translate(1259.6,788.7) scale(0.9,1)" text-anchor="middle" font-family="Liberation Sans, sans-serif" font-weight="700" font-size="22.8" fill="#fff" stroke="#fff" stroke-width=".7">SC</text>
<circle cx="1098.4" cy="828.5" r="24.95" fill="#c86c17" stroke="#fff" stroke-width="3.5"/>
<text transform="translate(1099.1,836.5) scale(1.0,1)" text-anchor="middle" font-family="Liberation Sans, sans-serif" font-weight="700" font-size="22.8" fill="#fff" stroke="#fff" stroke-width=".7">AL</text>
<circle cx="931.4" cy="883.3" r="24.95" fill="#c86c17" stroke="#fff" stroke-width="3.5"/>
<text transform="translate(931.9,893.6) scale(0.96,1)" text-anchor="middle" font-family="Liberation Sans, sans-serif" font-weight="700" font-size="22.8" fill="#fff" stroke="#fff" stroke-width=".7">LA</text>
<circle cx="216.6" cy="987.5" r="24.95" fill="#c86c17" stroke="#fff" stroke-width="3.5"/>
<text transform="translate(216.2,995.5) scale(0.98,1)" text-anchor="middle" font-family="Liberation Sans, sans-serif" font-weight="700" font-size="22.8" fill="#fff" stroke="#fff" stroke-width=".7">AK</text>
<circle cx="1436.4" cy="634.4" r="25.2" fill="#c86c17"/>
<text transform="translate(1436.0,644.7) scale(1.0,1)" text-anchor="middle" font-family="Liberation Sans, sans-serif" font-weight="700" font-size="22.8" fill="#fff" stroke="#fff" stroke-width=".7">DE</text>
<circle cx="655.6" cy="1191.4" r="25.2" fill="#c86c17"/>
<text transform="translate(653.8,1199.6000000000001) scale(1.06,1)" text-anchor="middle" font-family="Liberation Sans, sans-serif" font-weight="700" font-size="22.8" fill="#fff" stroke="#fff" stroke-width=".7">HI</text>
<path d="M1354,1100.5 L1354,770.7 L1559.5,770.7" fill="none" stroke="#231f20" stroke-width="2"/>
<g transform="translate(1460,30) scale(0.11765)">
<g fill="#a7a7aa"><path d="M250,545 C280,520 330,540 350,560 L320,600 C290,590 260,570 250,545Z"/><path d="M480,575 C560,560 700,530 770,500 C810,510 830,525 835,540 C760,600 600,620 500,610Z"/><path d="M335,740 C360,720 420,750 450,770 L430,800 C390,790 350,770 335,740Z"/><path d="M560,790 C640,770 740,740 790,725 C820,735 830,745 830,760 C770,800 660,820 580,815Z"/><path d="M430,930 C470,950 520,960 570,965 L585,990 C520,990 450,970 425,945Z"/><path d="M650,960 C700,930 760,905 800,905 C820,915 825,925 825,935 C780,970 710,990 660,985Z"/></g>
<g fill="#4c1a82"><path d="M150,115 L265,115 L712,1150 L690,1162Z"/><path d="M700,215 C690,180 600,165 520,185 C400,215 250,320 200,440 C180,500 210,560 255,565 C250,500 300,430 380,380 C470,320 600,300 680,270 C705,255 705,235 700,215Z"/><path d="M835,510 C850,440 790,380 690,385 C560,395 380,500 300,620 C270,680 290,740 345,745 C340,680 400,610 480,570 C560,520 680,480 760,495 C800,500 820,520 835,510Z"/><path d="M835,740 C850,680 800,630 720,635 C600,640 440,760 395,870 C375,920 400,945 435,945 C430,890 480,830 560,780 C640,730 740,700 790,720 C815,730 830,745 835,740Z"/><path d="M830,920 C840,870 810,830 760,835 C680,850 600,950 580,1030 C575,1060 590,1075 600,1070 C610,1010 660,940 720,910 C770,890 810,905 830,920Z"/></g>
<circle cx="560" cy="208" r="9" fill="#fff"/>
</g>
</svg>
<div class="title" id="t1" style="top:34.6px;transform:scaleX(.917)">States with the least competitive commercial</div>
<div class="title" id="t2" style="top:104.1px;transform:scaleX(.892)">health insurance markets, 2019</div>
<div class="dag">†</div>
<div class="ama" id="ama">AMA</div>
<div class="am2" id="am1" style="top:132.5px">AMERICAN MEDICAL</div>
<div class="am2" id="am2" style="top:152.5px;letter-spacing:1.5px">ASSOCIATION</div>
<div class="lg" style="top:794.7px"><span class="n">1.</span><span class="s">Alabama</span></div>
<div class="lg" style="top:824.7px"><span class="n">2.</span><span class="s">Hawaii</span></div>
<div class="lg" style="top:854.7px"><span class="n">3.</span><span class="s">Michigan</span></div>
<div class="lg" style="top:884.7px"><span class="n">4.</span><span class="s">Delaware</span></div>
<div class="lg" style="top:914.7px"><span class="n">5.</span><span class="s">South Carolina</span></div>
<div class="lg" style="top:944.7px"><span class="n">6.</span><span class="s">Kentucky</span></div>
<div class="lg" style="top:974.7px"><span class="n">7.</span><span class="s">Alaska</span></div>
<div class="lg" style="top:1004.7px"><span class="n">8.</span><span class="s">Louisiana</span></div>
<div class="lg" style="top:1034.7px"><span class="n">9.</span><span class="s">Illinois</span></div>
<div class="lg" style="top:1064.7px"><span class="n">10.</span><span class="s">North Carolina</span></div>
<div class="ft" id="f1" style="top:1148px;transform:scaleX(.993)">Source: The AMA’s “Competition in health insurance: A comprehensive study of U.S. markets, 2020 update”</div>
<div class="ft" style="top:1176.5px">†</div><div class="ft" id="f2" style="top:1176.5px;left:828px;transform:scaleX(.997)">Based on the HHI—a measure of market concentration used by the U.S. Department of Justice and the Federal</div>
<div class="ft" id="f3" style="top:1196.5px;left:828px;transform:scaleX(.987)">Trade Commission—in the combined HMO+PPO+POS+EXCH market.</div>
<div class="ft" id="f4" style="top:1216px">© 2020 American Medical Association. All rights reserved. 20-469762</div>
</body></html>
